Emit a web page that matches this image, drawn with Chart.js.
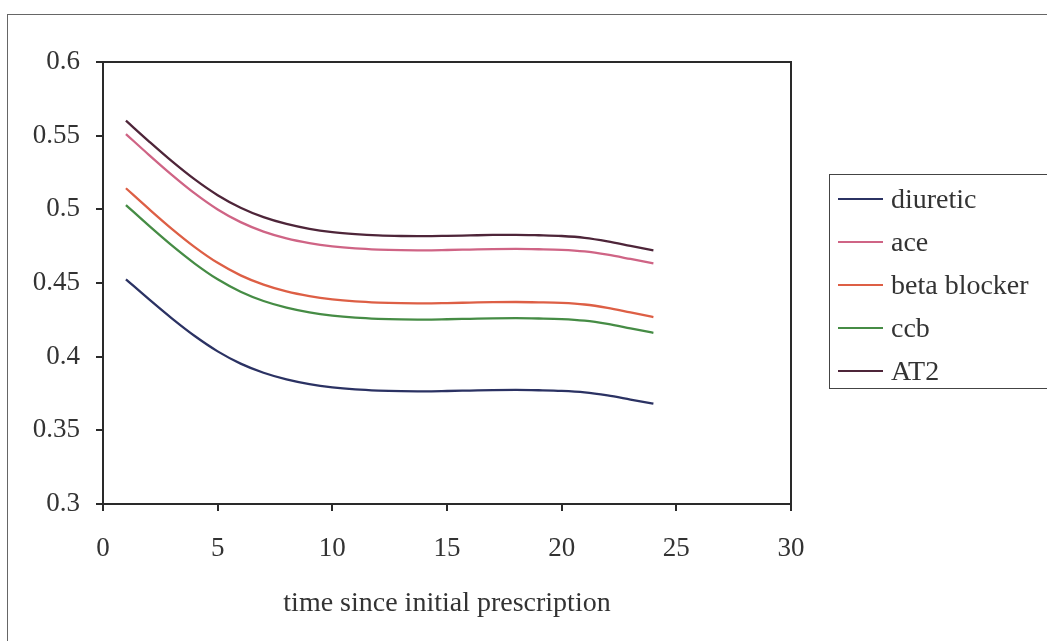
<!DOCTYPE html>
<html>
<head>
<meta charset="utf-8">
<script src="https://cdn.jsdelivr.net/npm/chart.js@4"></script>
<style>
  body { margin: 0; background: #fff; }
  #wrap { position: relative; width: 1047px; height: 641px; overflow: hidden; }
  #frame { position: absolute; left: 7px; top: 14px; width: 1100px; height: 700px; border: 1px solid #666; }
  #chart { position: absolute; left: 0; top: 0; }
  #legend {
    position: absolute; left: 829px; top: 174px; width: 240px; height: 213px;
    border: 1px solid #444; font-family: "Liberation Serif", serif; font-size: 28px; color: #333;
  }
  .row { position: absolute; left: 0; height: 30px; display: flex; align-items: center; }
  .swatch { width: 45px; height: 2px; margin-left: 8px; margin-right: 8px; }
</style>
</head>
<body>
<div id="wrap">
  <div id="frame"></div>
  <canvas id="chart" width="1047" height="641"></canvas>
  <div id="legend"></div>
</div>
<script>
const months = [1, 2, 3, 4, 5, 6, 7, 8, 9, 10, 11, 12, 13, 14, 15, 16, 17, 18, 19, 20, 21, 22, 23, 24];

const diuretic = [0.4525, 0.4390, 0.4260, 0.4140, 0.4036, 0.3953, 0.3891, 0.3846, 0.3814, 0.3792, 0.3778, 0.3770,
  0.3766, 0.3765, 0.3767, 0.3770, 0.3773, 0.3774, 0.3772, 0.3768, 0.3758, 0.3737, 0.3709, 0.3681];
const ace = [0.5511, 0.5370, 0.5234, 0.5108, 0.4999, 0.4913, 0.4849, 0.4803, 0.4771, 0.4749, 0.4735, 0.4727,
  0.4723, 0.4722, 0.4724, 0.4727, 0.4730, 0.4731, 0.4729, 0.4725, 0.4714, 0.4692, 0.4663, 0.4633];
const betaBlocker = [0.5143, 0.5003, 0.4868, 0.4744, 0.4637, 0.4552, 0.4489, 0.4443, 0.4411, 0.4389, 0.4375, 0.4367,
  0.4363, 0.4362, 0.4364, 0.4367, 0.4370, 0.4371, 0.4369, 0.4365, 0.4354, 0.4331, 0.4300, 0.4269];
const ccb = [0.5029, 0.4889, 0.4755, 0.4632, 0.4525, 0.4441, 0.4378, 0.4333, 0.4301, 0.4279, 0.4265, 0.4257,
  0.4253, 0.4252, 0.4254, 0.4257, 0.4260, 0.4261, 0.4259, 0.4255, 0.4244, 0.4222, 0.4192, 0.4162];
const at2 = [0.5602, 0.5462, 0.5327, 0.5203, 0.5096, 0.5011, 0.4947, 0.4901, 0.4868, 0.4846, 0.4832, 0.4823,
  0.4819, 0.4818, 0.4820, 0.4823, 0.4826, 0.4827, 0.4824, 0.4819, 0.4807, 0.4783, 0.4752, 0.4721];

const seriesNames = ["diuretic", "ace", "beta blocker", "ccb", "AT2"];
const seriesValues = [diuretic, ace, betaBlocker, ccb, at2];
const seriesColors = ["#2b3263", "#cf6485", "#dd5f45", "#468c45", "#4e2539"];

const serif = "'Liberation Serif', serif";
const ink = "#333";
const axisColor = "#2a2a2a";

// top and right edges of the plot box
const plotFrame = {
  id: "plotFrame",
  afterDraw(chart) {
    const { ctx, chartArea: a } = chart;
    ctx.save();
    ctx.strokeStyle = axisColor;
    ctx.lineWidth = 2;
    ctx.beginPath();
    ctx.moveTo(a.left, a.top);
    ctx.lineTo(a.right, a.top);
    ctx.lineTo(a.right, a.bottom);
    ctx.stroke();
    ctx.restore();
  },
};

const chart = new Chart(document.getElementById("chart"), {
  type: "line",
  data: {
    datasets: seriesNames.map((name, i) => ({
      label: name,
      data: months.map((m, j) => ({ x: m, y: seriesValues[i][j] })),
      borderColor: seriesColors[i],
      borderWidth: 2.3,
      pointRadius: 0,
      cubicInterpolationMode: "monotone",
      fill: false,
    })),
  },
  options: {
    responsive: false,
    animation: false,
    layout: { padding: { top: 62, right: 256, left: 0, bottom: 0 } },
    plugins: { legend: { display: false }, tooltip: { enabled: false } },
    scales: {
      x: {
        type: "linear",
        min: 0,
        max: 30,
        ticks: { stepSize: 5, color: ink, font: { family: serif, size: 27 }, padding: 22, maxRotation: 0 },
        grid: { drawOnChartArea: false, tickLength: 7, color: axisColor, lineWidth: 2 },
        border: { color: axisColor, width: 2 },
        title: {
          display: true,
          text: "time since initial prescription",
          color: ink,
          font: { family: serif, size: 28 },
          padding: { top: 0, bottom: 21 },
        },
        afterFit(scale) { scale.height = 137; },
      },
      y: {
        min: 0.3,
        max: 0.6,
        ticks: {
          stepSize: 0.05,
          color: ink,
          font: { family: serif, size: 27 },
          padding: 16,
          callback: (v) => String(Number(v.toFixed(2))),
        },
        grid: { drawOnChartArea: false, tickLength: 7, color: axisColor, lineWidth: 2 },
        border: { color: axisColor, width: 2 },
        afterFit(scale) { scale.width = 103; },
      },
    },
  },
  plugins: [plotFrame],
});

// legend box built from the chart's datasets
const legendBox = document.getElementById("legend");
chart.data.datasets.forEach((ds, i) => {
  const row = document.createElement("div");
  row.className = "row";
  row.style.top = (9 + i * 43) + "px";
  const sw = document.createElement("span");
  sw.className = "swatch";
  sw.style.background = ds.borderColor;
  const txt = document.createElement("span");
  txt.textContent = ds.label;
  row.appendChild(sw);
  row.appendChild(txt);
  legendBox.appendChild(row);
});
</script>
</body>
</html>
